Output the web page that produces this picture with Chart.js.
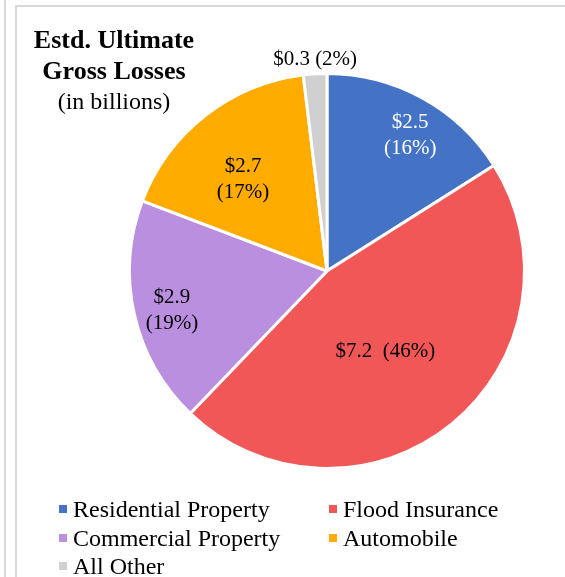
<!DOCTYPE html>
<html>
<head>
<meta charset="utf-8">
<script src="https://cdn.jsdelivr.net/npm/chart.js@4/dist/chart.umd.min.js"></script>
<style>
  body { margin: 0; background: #fff; width: 565px; height: 577px; overflow: hidden; position: relative; font-family: "Liberation Serif", "Times New Roman", serif; }
  .rule { position: absolute; background: #d9d9d9; }
  #title { position: absolute; left: 14px; top: 25px; width: 200px; text-align: center; color: #000; z-index: 2; }
  #title b { display: block; font-size: 26px; line-height: 30.5px; }
  #title span { display: block; font-size: 24px; line-height: 30.5px; }
  #wrap { position: absolute; left: 112px; top: 36px; width: 430px; height: 470px; }
  #legend { position: absolute; left: 59px; top: 495px; width: 500px; font-size: 24px; color: #000; }
  .item { position: absolute; white-space: nowrap; line-height: 29px; }
  .item i { display: inline-block; width: 8px; height: 8px; margin-right: 6px; vertical-align: 4px; }
</style>
</head>
<body>
<div class="rule" style="left:4px;top:0;width:2px;height:577px"></div>
<div class="rule" style="left:15px;top:5px;width:2px;height:572px"></div>
<div class="rule" style="left:15px;top:5px;width:550px;height:2px"></div>

<div id="title"><b>Estd. Ultimate</b><b>Gross Losses</b><span>(in billions)</span></div>
<div id="wrap"><canvas id="myChart"></canvas></div>
<div id="legend"></div>

<script>
// loss categories, in billions of dollars
const categories = ["Residential Property", "Flood Insurance", "Commercial Property", "Automobile", "All Other"];
const losses = [2.5, 7.2, 2.9, 2.7, 0.3];
const shares = ["16%", "46%", "19%", "17%", "2%"];
const colors = ["#4472C4", "#F25757", "#BB8FDF", "#FFAB00", "#D0D0D0"];

// slice labels: distance from centre (fraction of radius), small nudge, text colour
const labelSpots = [
  { r: 0.81, dx: 6, dy: 5, color: "#fff", lines: 2 },
  { r: 0.50, dx: -4, dy: 4, color: "#000", lines: 1 },
  { r: 0.81, dx: 1, dy: 4, color: "#000", lines: 2 },
  { r: 0.64, dx: -6, dy: 8, color: "#000", lines: 2 },
  { r: 1.08, dx: 1, dy: 1, color: "#000", lines: 1 },
];

const sliceLabels = {
  id: "sliceLabels",
  afterDatasetsDraw(chart) {
    const ctx = chart.ctx;
    const arcs = chart.getDatasetMeta(0).data;
    ctx.save();
    ctx.font = '21px "Liberation Serif", serif';
    ctx.textAlign = "center";
    ctx.textBaseline = "middle";
    arcs.forEach((arc, i) => {
      const spot = labelSpots[i];
      const mid = (arc.startAngle + arc.endAngle) / 2;
      const d = arc.outerRadius * spot.r;
      const x = arc.x + Math.cos(mid) * d + spot.dx;
      const y = arc.y + Math.sin(mid) * d + spot.dy;
      const value = "$" + losses[i].toFixed(1);
      ctx.fillStyle = spot.color;
      if (spot.lines === 2) {
        ctx.fillText(value, x, y - 13);
        ctx.fillText("(" + shares[i] + ")", x, y + 13);
      } else {
        const gap = i === 1 ? "  " : " ";
        ctx.fillText(value + gap + "(" + shares[i] + ")", x, y);
      }
    });
    ctx.restore();
  },
};

new Chart("myChart", {
  type: "pie",
  data: {
    labels: categories,
    datasets: [
      {
        data: losses,
        backgroundColor: colors,
        borderColor: "#fff",
        borderWidth: 3,
      },
    ],
  },
  options: {
    responsive: true,
    maintainAspectRatio: false,
    animation: false,
    layout: { padding: { left: 16, right: 16, top: 36, bottom: 36 } },
    plugins: {
      legend: { display: false },
      tooltip: { enabled: false },
    },
    events: [],
  },
  plugins: [sliceLabels],
});

// two-column legend under the pie
const legend = document.getElementById("legend");
categories.forEach((name, i) => {
  const item = document.createElement("div");
  item.className = "item";
  item.style.left = (i % 2) * 270 + "px";
  item.style.top = Math.floor(i / 2) * 28.5 + "px";
  item.innerHTML = `<i style="background:${colors[i]}"></i>${name}`;
  legend.appendChild(item);
});
</script>
</body>
</html>
